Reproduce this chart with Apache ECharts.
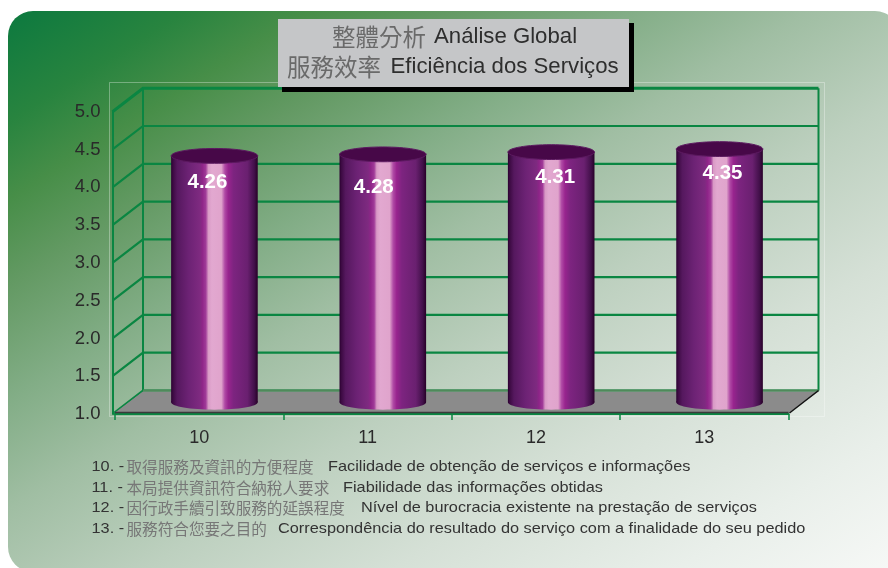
<!DOCTYPE html>
<html>
<head>
<meta charset="utf-8">
<style>html,body{margin:0;padding:0;background:#fff}#chart{width:888px;height:568px}</style>
<script src="https://cdn.jsdelivr.net/npm/echarts@6/dist/echarts.min.js"></script>
</head>
<body>
<div id="chart"></div>
<script>
// Survey scores per question
const categories = ['10', '11', '12', '13'];
const scores = [4.26, 4.28, 4.31, 4.35];
const yTicks = [1.0, 1.5, 2.0, 2.5, 3.0, 3.5, 4.0, 4.5, 5.0];

const titleZh = ['整體分析', '服務效率'];
const titlePt = ['Análise Global', 'Eficiência dos Serviços'];

const noteNumbers = ['10. -', '11. -', '12. -', '13. -'];
const notesZh = ['取得服務及資訊的方便程度', '本局提供資訊符合納稅人要求', '因行政手續引致服務的延誤程度', '服務符合您要之目的'];
const notesPt = [
  'Facilidade de obtenção de serviços e informações',
  'Fiabilidade das informações obtidas',
  'Nível de burocracia existente na prestação de serviços',
  'Correspondência do resultado do serviço com a finalidade do seu pedido'
];

// Layout of the pseudo-3D box
const DEPTH_X = 30.5, DEPTH_Y = -23.5, AXIS_OFFSET = 2.5;
const GRID = { left: 115, right: 99.5, top: 111.7, bottom: 154 };
const CYL_RX = 43.3, CYL_RY = 7.4;
const GREEN = '#0a8642';

// Hand placement of the value captions, relative to the cylinder top
const captionNudge = [[-7, 26], [-9, 33], [4, 25], [3, 24]];
const titleRows = [{ y: 37, zhX: 332, ptX: 434 }, { y: 67, zhX: 287, ptX: 390.5 }];
const noteRows = [
  { y: 467, zhX: 126.5, ptX: 328 }, { y: 488, zhX: 126.5, ptX: 343 },
  { y: 508, zhX: 126.5, ptX: 361 }, { y: 529, zhX: 126.5, ptX: 278 }
];
const NOTE_STRETCH = 1.124;

const LATIN = '"Liberation Sans", Arial, sans-serif';
const CJK = '"Noto Sans CJK TC", sans-serif';

const bodyGradient = {
  type: 'linear', x: 0, y: 0, x2: 1, y2: 0,
  colorStops: [
    [0, '#2a0030'], [0.02, '#3c0a42'], [0.07, '#55185e'], [0.2, '#6c2274'],
    [0.33, '#7e2a80'], [0.36, '#8e2488'], [0.4, '#a03a98'], [0.43, '#d99ac6'],
    [0.47, '#e2a8d0'], [0.58, '#e0a4cc'], [0.62, '#b04aa5'], [0.66, '#98248e'],
    [0.72, '#7d2480'], [0.88, '#6a2070'], [0.96, '#42104a'], [1, '#280028']
  ].map(([offset, color]) => ({ offset, color }))
};

function plotEdges(api) {
  const band = api.size([1, 0])[0];
  return {
    left: api.coord([0, 1])[0] - band / 2,
    right: api.coord([categories.length - 1, 1])[0] + band / 2
  };
}

// One grid level: the diagonal on the side wall and the line across the back wall
function renderWallLine(params, api) {
  const e = plotEdges(api);
  const y = api.coord([0, api.value(0)])[1];
  const width = api.value(0) === 5 ? 3 : 2.2;
  return {
    type: 'polyline',
    shape: { points: [
      [e.left - AXIS_OFFSET, y],
      [e.left - AXIS_OFFSET + DEPTH_X, y + DEPTH_Y],
      [e.right + DEPTH_X - 0.5, y + DEPTH_Y]
    ] },
    style: { fill: 'none', stroke: GREEN, lineWidth: width }
  };
}

// Vertical edges of the back wall and the grey floor
function renderFrame(params, api) {
  const e = plotEdges(api);
  const y0 = api.coord([0, 1])[1];
  const y1 = api.coord([0, 5])[1];
  const bl = e.left - AXIS_OFFSET + DEPTH_X, br = e.right + DEPTH_X - 0.5;
  return {
    type: 'group',
    children: [
      { type: 'line', shape: { x1: bl, y1: y1 + DEPTH_Y, x2: bl, y2: y0 + DEPTH_Y }, style: { stroke: GREEN, lineWidth: 2 } },
      { type: 'line', shape: { x1: br, y1: y1 + DEPTH_Y, x2: br, y2: y0 + DEPTH_Y }, style: { stroke: GREEN, lineWidth: 2 } },
      {
        type: 'polygon',
        shape: { points: [[e.left - AXIS_OFFSET + 2, y0 - 1], [bl, y0 + DEPTH_Y + 1], [br, y0 + DEPTH_Y + 1], [e.right + 0.5, y0 - 1]] },
        style: { fill: '#8b8b8b' }
      },
      { type: 'line', shape: { x1: bl, y1: y0 + DEPTH_Y, x2: br, y2: y0 + DEPTH_Y }, style: { stroke: '#4f8a5a', lineWidth: 2 } },
      { type: 'line', shape: { x1: e.left, y1: y0 - 1.5, x2: e.right, y2: y0 - 1.5 }, style: { stroke: '#3a3a3a', lineWidth: 1.5 } },
      { type: 'line', shape: { x1: e.right + 1, y1: y0 - 1, x2: br, y2: y0 + DEPTH_Y }, style: { stroke: '#111', lineWidth: 1.5 } }
    ]
  };
}

// Cylinder standing in the middle of the box depth
function renderCylinder(params, api) {
  const i = api.value(0);
  const v = api.value(1);
  const cx = api.coord([i, v])[0] + DEPTH_X / 2;
  const top = api.coord([i, v])[1] + DEPTH_Y / 2;
  const base = api.coord([i, 1])[1] + DEPTH_Y / 2;
  const nudge = captionNudge[params.dataIndex];
  return {
    type: 'group',
    children: [
      { type: 'ellipse', shape: { cx, cy: base, rx: CYL_RX, ry: CYL_RY }, style: { fill: bodyGradient } },
      { type: 'rect', shape: { x: cx - CYL_RX, y: top, width: CYL_RX * 2, height: base - top }, style: { fill: bodyGradient } },
      { type: 'ellipse', shape: { cx, cy: top, rx: CYL_RX, ry: CYL_RY }, style: { fill: '#470848', stroke: '#5c1a60', lineWidth: 1 } },
      {
        type: 'text',
        style: {
          x: cx + nudge[0], y: top + nudge[1],
          text: v.toFixed(2),
          fill: '#fff', font: 'bold 20.5px ' + LATIN,
          align: 'center', verticalAlign: 'middle'
        }
      }
    ]
  };
}

const background = {
  type: 'rect', z: -20,
  shape: { x: 8, y: 11, width: 892, height: 561, r: 25 },
  style: {
    fill: {
      type: 'linear', global: true, x: 8, y: 11, x2: 506, y2: 809,
      colorStops: [
        { offset: 0, color: '#0c793f' }, { offset: 0.1, color: '#28843f' },
        { offset: 0.17, color: '#478e48' }, { offset: 0.25, color: '#649a64' },
        { offset: 0.35, color: '#82ad86' }, { offset: 0.45, color: '#a0bea3' },
        { offset: 0.58, color: '#bdd0bf' }, { offset: 0.72, color: '#d5e0d6' },
        { offset: 0.88, color: '#e9efea' }, { offset: 1, color: '#f6f8f6' }
      ]
    }
  }
};

function label(x, y, text, font, fill, stretch) {
  return { type: 'text', z: 50, x, y, scaleX: stretch || 1, style: { x: 0, y: 0, text, font, fill, verticalAlign: 'middle' } };
}

const graphics = [
  background,
  { type: 'rect', z: -10, shape: { x: 109.5, y: 82.5, width: 715, height: 334 }, style: { fill: 'none', stroke: 'rgba(255,255,255,0.32)', lineWidth: 1 } },
  { type: 'rect', z: 40, shape: { x: 282, y: 23, width: 352, height: 69 }, style: { fill: '#000' } },
  { type: 'rect', z: 41, shape: { x: 278, y: 19, width: 351, height: 68 }, style: { fill: '#c5c6c8' } }
];
titleRows.forEach((row, i) => {
  graphics.push(label(row.zhX, row.y, titleZh[i], '23.5px ' + CJK, '#6a6a6a'));
  graphics.push(label(row.ptX, row.y, titlePt[i], '22.2px ' + LATIN, '#2e2e2e'));
});
noteRows.forEach((row, i) => {
  graphics.push(label(91.5, row.y, noteNumbers[i], '14.5px ' + LATIN, '#333', NOTE_STRETCH));
  graphics.push(label(row.zhX, row.y, notesZh[i], '15.6px ' + CJK, '#777'));
  graphics.push(label(row.ptX, row.y, notesPt[i], '14.5px ' + LATIN, '#333', NOTE_STRETCH));
});

const chart = echarts.init(document.getElementById('chart'));
chart.setOption({
  animation: false,
  graphic: { elements: graphics },
  grid: GRID,
  xAxis: {
    type: 'category',
    data: categories,
    axisLine: { lineStyle: { color: GREEN, width: 2 } },
    axisTick: { show: true, alignWithLabel: false, length: 6, lineStyle: { color: GREEN, width: 1.5 } },
    axisLabel: { color: '#2a2a2a', fontSize: 18, fontFamily: 'Liberation Sans', margin: 15 }
  },
  yAxis: {
    type: 'value',
    min: 1, max: 5, interval: 0.5,
    offset: AXIS_OFFSET,
    axisLine: { show: true, lineStyle: { color: GREEN, width: 2 } },
    axisTick: { show: false },
    splitLine: { show: false },
    axisLabel: {
      color: '#2a2a2a', fontSize: 18.5, fontFamily: 'Liberation Sans', margin: 12,
      padding: [2, 0, 0, 0],
      formatter: v => v.toFixed(1)
    }
  },
  series: [
    { type: 'custom', z: 2, renderItem: renderWallLine, data: yTicks.map(v => [v]), encode: { y: 0 }, silent: true },
    { type: 'custom', z: 3, renderItem: renderFrame, data: [[0]], encode: { y: 0 }, silent: true },
    { type: 'custom', z: 5, renderItem: renderCylinder, data: scores.map((v, i) => [i, v]), encode: { x: 0, y: 1 } }
  ]
});
</script>
</body>
</html>
